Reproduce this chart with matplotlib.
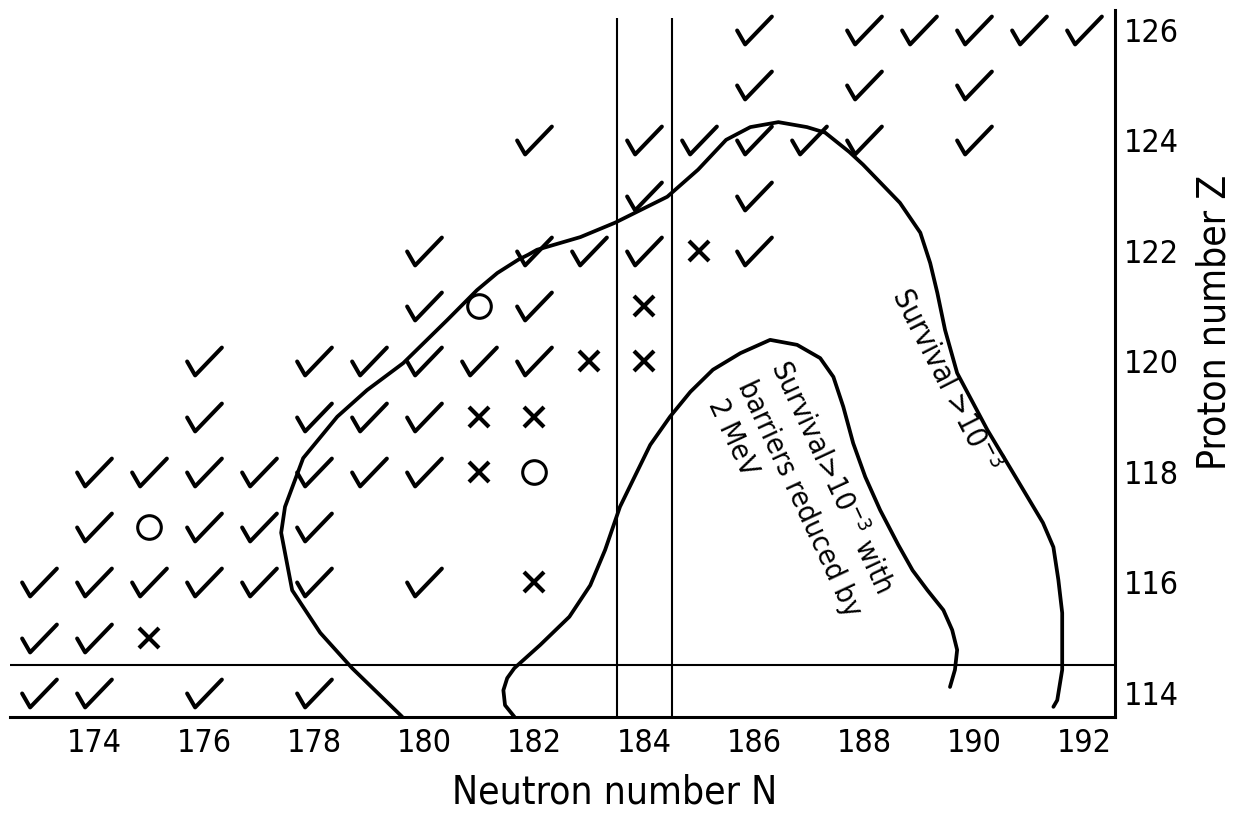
import matplotlib
matplotlib.use("Agg")
import matplotlib.pyplot as plt
from matplotlib.path import Path
from matplotlib.markers import MarkerStyle
from matplotlib import font_manager as fm

# ---------------- data ----------------
x_ticks = [174, 176, 178, 180, 182, 184, 186, 188, 190, 192]
y_ticks = [114, 116, 118, 120, 122, 124, 126]

check_N = [186, 188, 189, 190, 191, 192,
           186, 188, 190,
           182, 184, 185, 186, 187, 188, 190,
           184, 186,
           180, 182, 183, 184, 186,
           180, 182,
           176, 178, 179, 180, 181, 182,
           176, 178, 179, 180,
           174, 175, 176, 177, 178, 179, 180,
           174, 176, 177, 178,
           173, 174, 175, 176, 177, 178, 180,
           173, 174,
           173, 174, 176, 178]
check_Z = [126, 126, 126, 126, 126, 126,
           125, 125, 125,
           124, 124, 124, 124, 124, 124, 124,
           123, 123,
           122, 122, 122, 122, 122,
           121, 121,
           120, 120, 120, 120, 120, 120,
           119, 119, 119, 119,
           118, 118, 118, 118, 118, 118, 118,
           117, 117, 117, 117,
           116, 116, 116, 116, 116, 116, 116,
           115, 115,
           114, 114, 114, 114]

cross_N = [185, 184, 183, 184, 181, 182, 181, 182, 175]
cross_Z = [122, 121, 120, 120, 119, 119, 118, 116, 115]

circle_N = [181, 182, 175]
circle_Z = [121, 118, 117]

# contour "Survival > 1e-3"
outer_N = [179.60, 179.29, 178.69, 178.11, 177.60, 177.40, 177.47, 177.80,
           178.42, 178.96, 179.62, 180.42, 180.96, 181.33, 181.71, 181.89,
           182.05, 182.84, 183.47, 184.42, 184.98, 185.49, 185.93, 186.44,
           186.96, 187.29, 187.73, 187.98, 188.65, 189.02, 189.20, 189.33,
           189.47, 189.69, 190.24, 190.71, 191.25, 191.44, 191.53, 191.60,
           191.60, 191.51, 191.44]
outer_Z = [113.57, 113.87, 114.45, 115.09, 115.86, 116.90, 117.37, 118.25,
           119.00, 119.48, 119.97, 120.75, 121.29, 121.60, 121.84, 121.93,
           122.02, 122.25, 122.51, 122.98, 123.47, 124.01, 124.24, 124.33,
           124.24, 124.14, 123.79, 123.56, 122.87, 122.33, 121.78, 121.24,
           120.57, 119.79, 118.76, 117.98, 117.08, 116.64, 116.05, 115.45,
           114.42, 113.87, 113.75]

# contour "Survival > 1e-3 with barriers reduced by 2 MeV"
inner_N = [181.64, 181.47, 181.44, 181.51, 181.64, 182.11, 182.64, 183.02,
           183.29, 183.56, 183.80, 184.11, 184.47, 184.84, 185.25, 185.75,
           186.29, 186.78, 187.20, 187.44, 187.62, 187.80, 188.02, 188.29,
           188.62, 188.88, 189.15, 189.44, 189.60, 189.69, 189.65, 189.56]
inner_Z = [113.57, 113.78, 114.05, 114.27, 114.45, 114.87, 115.38, 115.95,
           116.59, 117.37, 117.86, 118.49, 119.00, 119.45, 119.85, 120.15,
           120.39, 120.30, 120.06, 119.72, 119.18, 118.52, 117.91, 117.31,
           116.68, 116.22, 115.86, 115.50, 115.14, 114.78, 114.42, 114.11]

shell_N = [183.5, 184.5]
shell_Z = 114.5

# ---------------- style ----------------
W, H = 1245, 816
plt.rcParams['font.family'] = ['DejaVu Sans']
has_cond = any(f.name == 'DejaVu Sans' and 'ondensed' in f.fname
               for f in fm.fontManager.ttflist)
if has_cond:
    plt.rcParams['font.stretch'] = 'condensed'
plt.rcParams['mathtext.fontset'] = 'dejavusans'

fig = plt.figure(figsize=(W / 100, H / 100), dpi=100)
x0, x1 = 10, 1115
y_bot = 717
ax = fig.add_axes([x0 / W, 1 - y_bot / H, (x1 - x0) / W, y_bot / H])

ax.set_xlim(172.47, 192.56)
ax.set_ylim(113.566, 126.54)

for s in ['left', 'top']:
    ax.spines[s].set_visible(False)
ax.spines['bottom'].set_linewidth(2.2)
ax.spines['right'].set_linewidth(2.2)
ax.spines['right'].set_bounds(113.566, 126.36)

ax.yaxis.tick_right()
ax.set_xticks(x_ticks)
ax.set_xticklabels([str(v) for v in x_ticks])
ax.set_yticks(y_ticks)
ax.set_yticklabels([str(v) for v in y_ticks])
ax.tick_params(axis='both', length=0, labelsize=23)
ax.tick_params(axis='x', pad=8)
ax.tick_params(axis='y', pad=6)

# shell lines
ax.vlines(shell_N, 113.566, 126.22, colors='black', lw=1.5)
ax.hlines(shell_Z, 172.47, 192.56, colors='black', lw=1.5)

# contours
ax.plot(outer_N, outer_Z, color='black', lw=2.7, solid_capstyle='round',
        solid_joinstyle='round', clip_on=False)
ax.plot(inner_N, inner_Z, color='black', lw=2.7, solid_capstyle='round',
        solid_joinstyle='round', clip_on=False)

# markers
check_path = Path([(-0.5, 0.0), (-0.27, -0.4), (0.5, 0.4)],
                  [Path.MOVETO, Path.LINETO, Path.LINETO])
check_marker = MarkerStyle(check_path, capstyle='round', joinstyle='round')
ax.plot(check_N, check_Z, ls='none', marker=check_marker, ms=25,
        mew=2.9, mfc='none', mec='black')
ax.plot(cross_N, cross_Z, ls='none', marker='x', ms=14, mew=3.0,
        color='black')
ax.plot(circle_N, circle_Z, ls='none', marker='o', ms=17, mew=2.2,
        mfc='none', mec='black')

# annotations
ax.text(189.47, 119.66, 'Survival >10$^{-3}$', rotation=-63,
        rotation_mode='anchor', ha='center', va='center', fontsize=21.5)
ax.text(187.4, 117.91, 'Survival>10$^{-3}$ with', rotation=-65,
        rotation_mode='anchor', ha='center', va='center', fontsize=21)
ax.text(186.82, 117.51, 'barriers reduced by', rotation=-65,
        rotation_mode='anchor', ha='center', va='center', fontsize=21)
ax.text(185.6, 118.62, '2 MeV', rotation=-65,
        rotation_mode='anchor', ha='center', va='center', fontsize=21)

# axis labels
fig.text(615 / W, 1 - 792 / H, 'Neutron number N', ha='center', va='center',
         fontsize=28)
fig.text(1215 / W, 1 - 322 / H, 'Proton number Z', ha='center', va='center',
         rotation=90, fontsize=28)

fig.savefig('out.png', dpi=100)
